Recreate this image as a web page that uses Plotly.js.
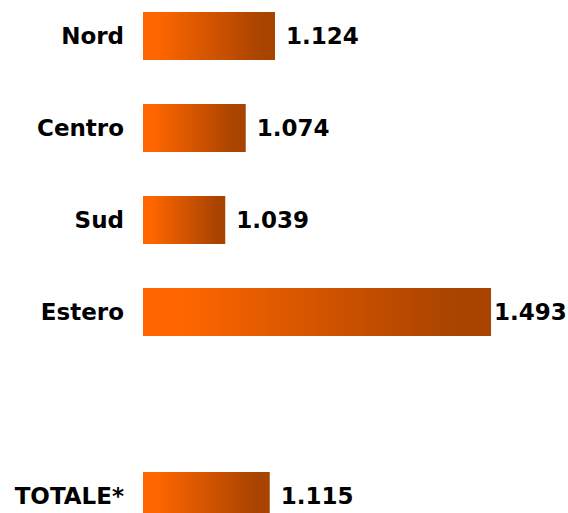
<!DOCTYPE html>
<html>
<head>
<meta charset="utf-8">
<script src="https://cdn.plot.ly/plotly-3.0.1.min.js"></script>
<style>html,body{margin:0;padding:0;background:#fff;}#chart{width:568px;height:513px;}</style>
</head>
<body>
<div id="chart"></div>
<script>
const categories = ['Nord', 'Centro', 'Sud', 'Estero', ' ', 'TOTALE*'];
const values = [1.124, 1.074, 1.039, 1.493, null, 1.115];
const X_MIN = 0.8985, X_MAX = 1.6245;
const positions = categories.map((c, i) => i);
const maxV = Math.max(...values.filter(v => v != null));
const valueLabels = values.map(v => v == null ? '' : (v === maxV ? '' : '\u00a0') + v.toFixed(3));

const FONT = 'DejaVu Sans, Verdana, sans-serif';
const FS = 23;

const trace = {
  type: 'bar',
  orientation: 'h',
  y: positions,
  x: values.map(v => v == null ? null : v - X_MIN),
  base: X_MIN,
  text: valueLabels,
  textposition: 'outside',
  cliponaxis: false,
  constraintext: 'none',
  textfont: {family: FONT, size: FS, color: '#000', weight: 'bold'},
  marker: {color: '#D45500', line: {width: 0}},
  hoverinfo: 'none'
};

const layout = {
  width: 568, height: 513,
  margin: {l: 143, r: 0, t: 0, b: 0, pad: 0},
  paper_bgcolor: '#fff', plot_bgcolor: '#fff',
  showlegend: false,
  bargap: 0.478,
  font: {family: FONT, size: FS, color: '#000', weight: 'bold'},
  xaxis: {range: [X_MIN, X_MAX], autorange: false, visible: false, showgrid: false, zeroline: false, fixedrange: true},
  yaxis: {
    type: 'linear',
    tickmode: 'array', tickvals: positions, ticktext: categories,
    range: [5.185, -0.391], autorange: false, showgrid: false, zeroline: false, showline: false,
    ticks: '', ticklabelstandoff: 18,
    tickfont: {family: FONT, size: FS, color: '#000', weight: 'bold'},
    fixedrange: true
  }
};

Plotly.newPlot('chart', [trace], layout, {staticPlot: true}).then(gd => {
  const svg = gd.querySelector('svg.main-svg');
  let defs = svg.querySelector('defs');
  const ns = 'http://www.w3.org/2000/svg';
  if (!defs) { defs = document.createElementNS(ns, 'defs'); svg.insertBefore(defs, svg.firstChild); }
  const g = document.createElementNS(ns, 'linearGradient');
  g.setAttribute('id', 'barGrad');
  g.setAttribute('x1', '0'); g.setAttribute('y1', '0');
  g.setAttribute('x2', '1'); g.setAttribute('y2', '0');
  [[0, '#FF6600'], [0.1, '#FF6600'], [0.9, '#A84300'], [1, '#A84300']].forEach(([o, c]) => {
    const s = document.createElementNS(ns, 'stop');
    s.setAttribute('offset', o); s.setAttribute('stop-color', c);
    g.appendChild(s);
  });
  defs.appendChild(g);
  gd.querySelectorAll('.bars .point path').forEach(p => { p.style.fill = 'url(#barGrad)'; });
});
</script>
</body>
</html>
